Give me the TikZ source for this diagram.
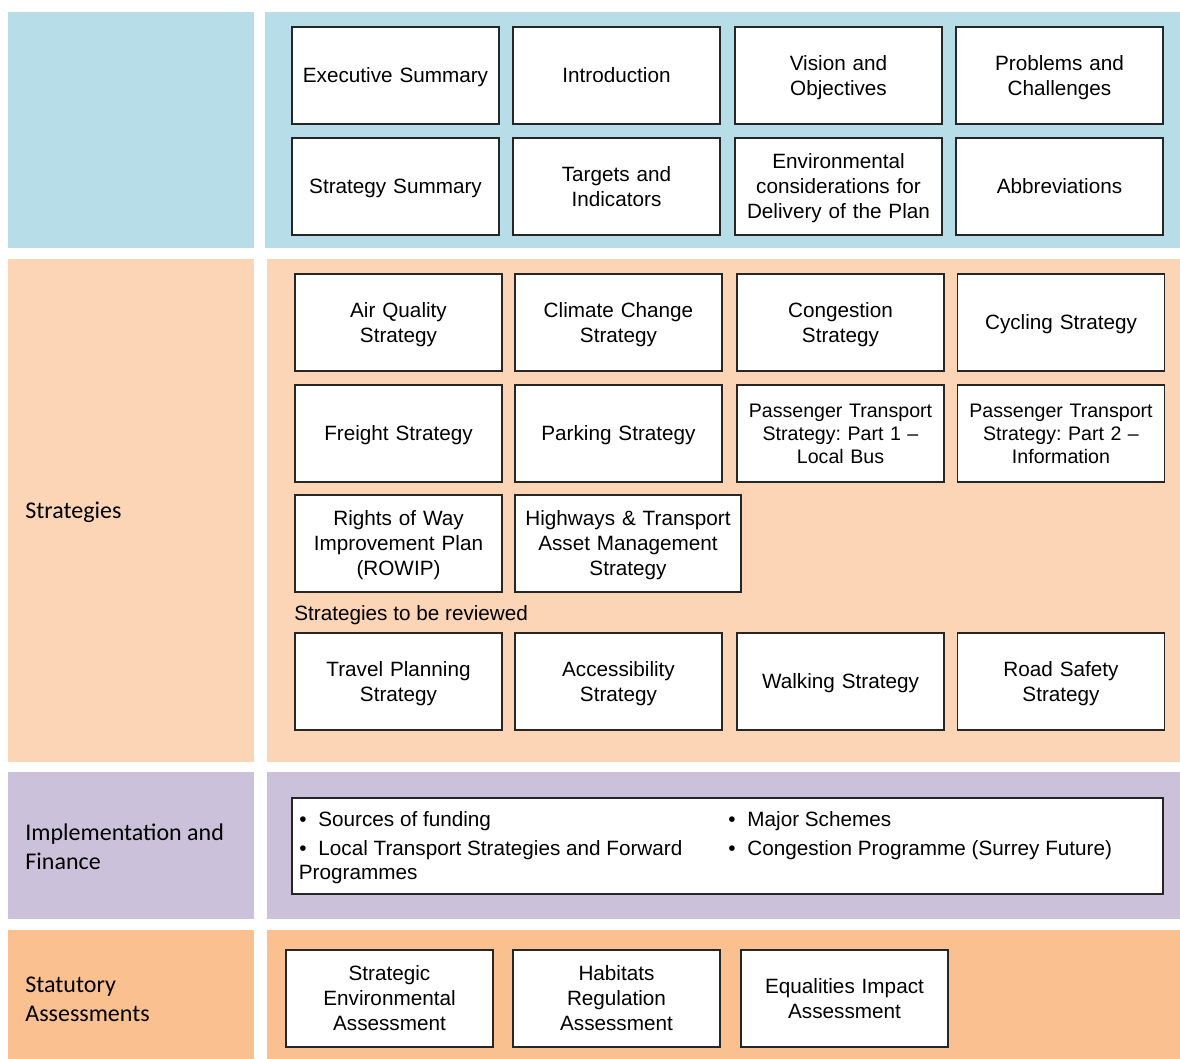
\documentclass[tikz,border=0pt]{standalone}
\usepackage{fontspec}
\setmainfont{Liberation Sans}
\newfontfamily\lblfont{Carlito}
\definecolor{bandblue}{HTML}{B7DDE8}
\definecolor{bandpeach}{HTML}{FBD5B5}
\definecolor{bandlilac}{HTML}{CCC1DA}
\definecolor{bandorange}{HTML}{FAC090}

\begin{document}
\begin{tikzpicture}[x=0.5pt, y=-0.5pt,
		docbox/.style={draw=black!85, line width=0.65pt, fill=white, minimum width=103.5pt, minimum height=48.5pt, text width=100pt, align=center, inner sep=0pt, font=\fontsize{10.35}{12.5}\selectfont\frenchspacing,
			execute at begin node={\vrule width 0pt height 0.905em depth 0pt},
			execute at end node={\vrule width 0pt height 0pt depth 0.212em}},
		smallbox/.style={docbox, font=\fontsize{9.8}{11.5}\selectfont\frenchspacing},
		sidelabel/.style={anchor=base west, inner sep=0pt, align=left, font=\lblfont\fontsize{12}{14.5}\selectfont},
		plaintext/.style={anchor=base west, inner sep=0pt, font=\fontsize{10.35}{12.5}\selectfont}]
			\useasboundingbox (0,0) rectangle (1180,1059);
			% coloured bands
			\fill [bandblue] (8,12) rectangle (254,248);
			\fill [bandblue] (265,12) rectangle (1180,248);
			\fill [bandpeach] (8,259) rectangle (254,762);
			\fill [bandpeach] (267,259) rectangle (1180,762);
			\fill [bandlilac] (8,772) rectangle (254,919);
			\fill [bandlilac] (267,772) rectangle (1180,919);
			\fill [bandorange] (8,930) rectangle (254,1059);
			\fill [bandorange] (267,930) rectangle (1180,1059);
			% side labels (base is the last line)
			\node [sidelabel] (strat) at (25,519) {Strategies};
			\node [sidelabel] (impl) at (25,869.3) {Implementation and\\Finance};
			\node [sidelabel] (stat) at (25,1021.7) {Statutory\\Assessments};
			% introduction
			\node [docbox] (exec) at (395.5,75.5) {Executive Summary};
			\node [docbox] (intro) at (616.5,75.5) {Introduction};
			\node [docbox] (vision) at (838.5,75.5) {Vision and\\Objectives};
			\node [docbox] (problems) at (1059.5,75.5) {Problems and\\Challenges};
			\node [docbox] (stratsum) at (395.5,186.5) {Strategy Summary};
			\node [docbox] (targets) at (616.5,186.5) {Targets and\\Indicators};
			\node [docbox] (environ) at (838.5,186.5) {Environmental\\considerations for\\Delivery of the Plan};
			\node [docbox] (abbrev) at (1059.5,186.5) {Abbreviations};
			% strategies
			\node [docbox] (air) at (398.5,322.5) {Air Quality\\Strategy};
			\node [docbox] (climate) at (618.5,322.5) {Climate Change\\Strategy};
			\node [docbox] (congest) at (840.5,322.5) {Congestion\\Strategy};
			\node [docbox] (cycling) at (1061,322.5) {Cycling Strategy};
			\node [docbox] (freight) at (398.5,433.5) {Freight Strategy};
			\node [docbox] (parking) at (618.5,433.5) {Parking Strategy};
			\node [smallbox] (ptone) at (840.5,433.5) {Passenger Transport\\Strategy: Part 1 --\\Local Bus};
			\node [smallbox] (pttwo) at (1061,433.5) {Passenger Transport\\Strategy: Part 2 --\\Information};
			\node [docbox] (rowip) at (398.5,543.5) {Rights of Way\\Improvement Plan\\(ROWIP)};
			\node [docbox, minimum width=113pt, text width=110pt] (highways) at (628,543.5) {Highways \& Transport\\Asset Management\\Strategy};
			\node [plaintext] (review) at (294,620.7) {Strategies to be reviewed};
			\node [docbox] (travel) at (398.5,681.5) {Travel Planning\\Strategy};
			\node [docbox] (access) at (618.5,681.5) {Accessibility\\Strategy};
			\node [docbox] (walking) at (840.5,681.5) {Walking Strategy};
			\node [docbox] (safety) at (1061,681.5) {Road Safety\\Strategy};
			% implementation and finance
			\node [docbox, minimum width=435.5pt, minimum height=48pt, text width=430pt] (funding) at (727.5,846) {};
			\node [plaintext] (bulletA) at (299,827) {•};
			\node [plaintext] (sources) at (318,827) {Sources of funding};
			\node [plaintext] (bulletB) at (299,855) {•};
			\node [plaintext] (local) at (318,855) {Local Transport Strategies and Forward};
			\node [plaintext] (progs) at (298.5,879) {Programmes};
			\node [plaintext] (bulletC) at (728,827) {•};
			\node [plaintext] (major) at (747,827) {Major Schemes};
			\node [plaintext] (bulletD) at (728,855) {•};
			\node [plaintext] (surrey) at (747,855) {Congestion Programme (Surrey Future)};
			% statutory assessments
			\node [docbox] (sea) at (389.5,998.5) {Strategic\\Environmental\\Assessment};
			\node [docbox] (habitats) at (616.5,998.5) {Habitats\\Regulation\\Assessment};
			\node [docbox] (equal) at (844.5,998.5) {Equalities Impact\\Assessment};
		\end{tikzpicture}
\end{document}
